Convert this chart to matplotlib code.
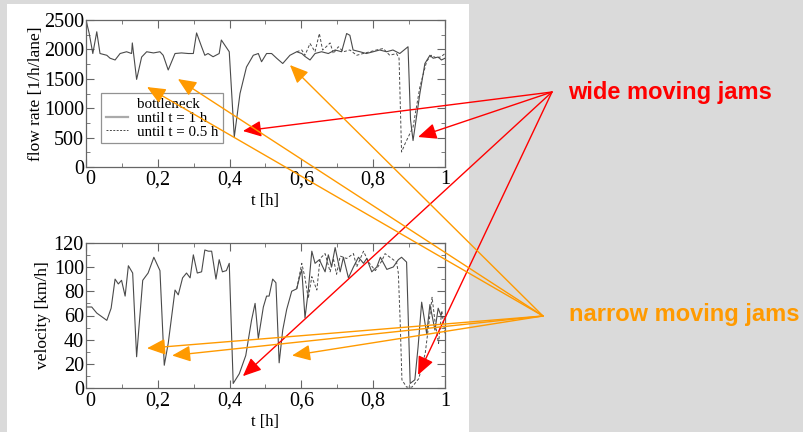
import matplotlib.pyplot as plt
from matplotlib.lines import Line2D
from matplotlib.patches import Rectangle, ConnectionPatch
from matplotlib.ticker import MultipleLocator, FuncFormatter
from matplotlib.transforms import ScaledTranslation

# flow rate, run with bottleneck until t = 1 h (solid)
t_flow = [0, 0.009, 0.019, 0.030, 0.039, 0.058, 0.067, 0.081, 0.095, 0.113, 0.127, 0.129, 0.141,
          0.155, 0.169, 0.188, 0.206, 0.215, 0.229, 0.248, 0.266, 0.285, 0.299, 0.308, 0.322,
          0.331, 0.340, 0.354, 0.371, 0.377, 0.399, 0.413, 0.429, 0.447, 0.466, 0.480, 0.489,
          0.503, 0.517, 0.531, 0.548, 0.568, 0.587, 0.601, 0.610, 0.624, 0.638, 0.656, 0.675,
          0.694, 0.712, 0.726, 0.735, 0.744, 0.763, 0.781, 0.800, 0.818, 0.837, 0.855, 0.874,
          0.897, 0.904, 0.911, 0.930, 0.944, 0.958, 0.967, 0.981, 0.990, 1.0]
flow_1h = [2500, 2270, 1930, 2300, 1930, 1900, 1850, 1820, 1930, 1960, 1930, 2110, 1490,
           1870, 1960, 1940, 1960, 1900, 1650, 1930, 1940, 1930, 1930, 2280, 2045,
           1900, 1930, 1875, 1930, 2160, 1960, 510, 1250, 1700, 1900, 1930, 1790,
           1930, 1930, 1850, 1760, 1900, 1960, 1930, 1880, 1820, 1930, 1960, 1930,
           1990, 1960, 2270, 2240, 1990, 1960, 1930, 1960, 1990, 1960, 1990, 1930,
           2045, 800, 450, 1250, 1760, 1900, 1850, 1870, 1820, 1850]

# flow rate, run with bottleneck until t = 0.5 h (dashed), differs after ~0.58 h
t_flow_half = [0.587, 0.601, 0.610, 0.624, 0.638, 0.650, 0.659, 0.670, 0.680, 0.689, 0.703,
               0.717, 0.735, 0.754, 0.772, 0.791, 0.809, 0.828, 0.846, 0.865, 0.872, 0.879,
               0.889, 0.911, 0.930, 0.949, 0.962, 0.977, 0.990, 1.0]
flow_half = [1960, 1990, 1900, 2100, 1960, 2270, 1990, 2050, 2110, 1930, 2045,
             1960, 1990, 1900, 1930, 1960, 1990, 2015, 1900, 1930, 1850, 255,
             400, 680, 1360, 1800, 1900, 1850, 1880, 1930]

# velocity, bottleneck until t = 1 h (solid)
t_vel = [0, 0.016, 0.030, 0.058, 0.070, 0.081, 0.090, 0.099, 0.109, 0.118, 0.130, 0.141, 0.158,
         0.173, 0.189, 0.206, 0.218, 0.229, 0.248, 0.257, 0.269, 0.280, 0.290, 0.299, 0.310,
         0.322, 0.331, 0.341, 0.350, 0.362, 0.371, 0.380, 0.391, 0.399, 0.410, 0.427, 0.445,
         0.461, 0.471, 0.480, 0.494, 0.503, 0.510, 0.520, 0.529, 0.538, 0.548, 0.559, 0.573,
         0.587, 0.596, 0.601, 0.610, 0.619, 0.629, 0.638, 0.650, 0.666, 0.675, 0.684, 0.694,
         0.708, 0.717, 0.731, 0.745, 0.759, 0.773, 0.782, 0.796, 0.810, 0.820, 0.838, 0.856,
         0.870, 0.879, 0.893, 0.903, 0.916, 0.925, 0.935, 0.949, 0.958, 0.972, 0.981, 0.990, 1.0]
vel_1h = [67, 67, 62, 56, 66, 90, 86, 89, 76, 101, 95, 26, 89,
          95, 108, 97, 19, 37, 81, 77, 91, 95, 91, 110, 95,
          96, 114, 113, 113, 90, 106, 96, 97, 103, 4, 12, 27,
          56, 70, 41, 67, 76, 76, 90, 87, 21, 48, 65, 80,
          82, 93, 98, 58, 80, 113, 103, 106, 96, 110, 100, 116,
          96, 108, 91, 100, 108, 103, 107, 96, 100, 108, 98, 100,
          106, 108, 104, 4, 7, 34, 71, 45, 69, 48, 66, 59, 59]

# velocity, bottleneck until t = 0.5 h (dashed)
t_vel_half = [0.587, 0.601, 0.610, 0.619, 0.629, 0.643, 0.652, 0.666, 0.680, 0.689, 0.698,
              0.708, 0.726, 0.745, 0.754, 0.773, 0.787, 0.806, 0.824, 0.833, 0.865, 0.870,
              0.875, 0.880, 0.893, 0.908, 0.927, 0.945, 0.964, 0.973, 0.982, 0.991, 1.0]
vel_half = [82, 103, 91, 74, 92, 81, 107, 111, 96, 107, 94,
            109, 107, 111, 100, 113, 104, 97, 105, 111, 104, 95,
            56, 7, 1, 1, 8, 29, 75, 53, 37, 64, 45]

xticks_fmt = lambda v, pos: ('%.1f' % v).replace('.', ',') if 0 < v < 1 else '%d' % round(v)

W, H = 804, 432
fig = plt.figure(figsize=(W / 100, H / 100), dpi=100)
fig.patch.set_facecolor('#dadada')
fig.add_artist(Rectangle((7 / W, 0), (469 - 7) / W, (H - 4) / H, transform=fig.transFigure,
                         facecolor='white', edgecolor='none', zorder=0))

serif = ['Liberation Serif', 'DejaVu Serif']
curve_col = '#4a4a4a'
spine_col = '#666666'

ax1 = fig.add_axes([86 / W, (H - 167) / H, 359 / W, 147 / H])
ax2 = fig.add_axes([86 / W, (H - 388.3) / H, 359 / W, 145.6 / H])

for ax in (ax1, ax2):
    ax.set_facecolor('none')
    ax.set_xlim(0, 1)
    ax.xaxis.set_major_locator(MultipleLocator(0.2))
    ax.xaxis.set_minor_locator(MultipleLocator(0.1))
    ax.xaxis.set_major_formatter(FuncFormatter(xticks_fmt))
    ax.tick_params(which='both', direction='in', top=True, right=True, color=spine_col,
                   labelsize=14.5)
    ax.tick_params(axis='x', pad=2.5)
    ax.tick_params(axis='y', pad=1.5)
    ax.tick_params(which='major', length=6)
    ax.tick_params(which='minor', length=3)
    for s in ax.spines.values():
        s.set_color(spine_col)
        s.set_linewidth(0.9)
    for lab in ax.get_xticklabels() + ax.get_yticklabels():
        lab.set_family(serif)
    ax.set_xlabel('t [h]', family=serif, fontsize=12, labelpad=2.5)

ax1.plot(t_flow_half, flow_half, color=curve_col, lw=0.7, ls=(0, (3, 2)))
ax1.plot(t_flow, flow_1h, color=curve_col, lw=0.8)
ax1.set_ylim(0, 2500)
ax1.yaxis.set_major_locator(MultipleLocator(500))
ax1.yaxis.set_minor_locator(MultipleLocator(250))
ax1.set_ylabel('flow rate [1/h/lane]', family=serif, fontsize=12.5, labelpad=0)

handles = [Line2D([], [], color='none'),
           Line2D([], [], color='#aaaaaa', lw=1.6),
           Line2D([], [], color=curve_col, lw=0.7, ls=(0, (2, 1.5)))]
leg = ax1.legend(handles, ['bottleneck', 'until t = 1 h', 'until t = 0.5 h'],
                 loc='upper left', bbox_to_anchor=(0.042, 0.503), borderaxespad=0,
                 frameon=True, fancybox=False,
                 prop={'family': serif, 'size': 10.8}, handlelength=1.5, handletextpad=0.6,
                 labelspacing=0.02, borderpad=0.3)
leg.get_frame().set_edgecolor('#777777')
leg.get_frame().set_linewidth(0.9)

ax2.plot(t_vel_half, vel_half, color=curve_col, lw=0.7, ls=(0, (3, 2)))
ax2.plot(t_vel, vel_1h, color=curve_col, lw=0.8)
ax2.set_ylim(0, 120)
ax2.yaxis.set_major_locator(MultipleLocator(20))
ax2.yaxis.set_minor_locator(MultipleLocator(10))
ax2.set_ylabel('velocity [km/h]', family=serif, fontsize=12.5, labelpad=2)

# nudge the x "0" a little so it does not collide with the y "0"
fig.canvas.draw()
shift = ScaledTranslation(4 / 100, 0, fig.dpi_scale_trans)
for ax in (ax1, ax2):
    for tick in ax.xaxis.get_major_ticks():
        if tick.label1.get_text() == '0':
            tick.label1.set_transform(tick.label1.get_transform() + shift)

# annotations
red, orange = '#ff0000', '#ff9a00'
wide_src = (552, H - 92)
narrow_src = (543, H - 316)
wide_targets = [(ax1, 0.437, 612), (ax1, 0.925, 510), (ax2, 0.437, 10), (ax2, 0.925, 11)]
narrow_targets = [(ax1, 0.170, 1360), (ax1, 0.256, 1496), (ax1, 0.568, 1734),
                  (ax2, 0.170, 33), (ax2, 0.240, 27), (ax2, 0.574, 27)]

for src, targets, col in [(wide_src, wide_targets, red), (narrow_src, narrow_targets, orange)]:
    for ax, tx, ty in targets:
        con = ConnectionPatch(xyA=src, coordsA='figure pixels', xyB=(tx, ty), coordsB=ax.transData,
                              arrowstyle='-|>,head_length=0.8,head_width=0.35', mutation_scale=14,
                              color=col, lw=1.0, shrinkA=0, shrinkB=0)
        fig.add_artist(con)

fig.text(568 / W, (H - 92) / H, 'wide moving jams', color=red, fontsize=17, fontweight='bold',
         family=['Liberation Sans', 'DejaVu Sans'], va='center', ha='left')
fig.text(569 / W, (H - 315) / H, 'narrow moving jams', color=orange, fontsize=17,
         fontweight='bold', family=['Liberation Sans', 'DejaVu Sans'], va='center', ha='left')

fig.savefig('out.png', dpi=100)
